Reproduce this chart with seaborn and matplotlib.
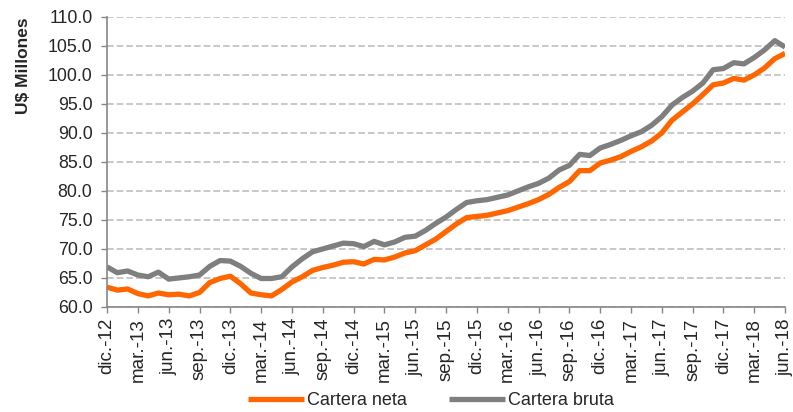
import pandas as pd
import seaborn as sns
import matplotlib.pyplot as plt
from matplotlib.ticker import FormatStrFormatter

# Cartera mensual, dic-12 a jun-18 (US$ millones)
cartera_neta = [63.4, 62.9, 63.1, 62.3, 61.9, 62.4, 62.1, 62.2, 61.9, 62.5,
                64.2, 64.9, 65.3, 64.0, 62.4, 62.1, 61.9, 63.0, 64.3, 65.2,
                66.3, 66.8, 67.2, 67.7, 67.8, 67.4, 68.2, 68.1, 68.6, 69.3,
                69.7, 70.7, 71.7, 73.0, 74.3, 75.4, 75.6, 75.8, 76.2, 76.6,
                77.2, 77.8, 78.5, 79.4, 80.6, 81.6, 83.5, 83.5, 84.8, 85.3,
                85.9, 86.8, 87.6, 88.6, 90.0, 92.2, 93.6, 95.0, 96.6, 98.3,
                98.6, 99.4, 99.1, 100.0, 101.2, 102.8, 103.7]
cartera_bruta = [66.9, 65.9, 66.2, 65.5, 65.2, 66.0, 64.8, 65.0, 65.2, 65.5,
                 67.0, 68.0, 67.9, 67.0, 65.8, 64.9, 64.9, 65.2, 66.9, 68.3,
                 69.5, 70.0, 70.5, 71.0, 70.9, 70.4, 71.3, 70.7, 71.2, 72.0,
                 72.2, 73.2, 74.4, 75.5, 76.8, 78.0, 78.3, 78.5, 78.9, 79.3,
                 80.0, 80.7, 81.3, 82.2, 83.6, 84.4, 86.3, 86.1, 87.4, 88.0,
                 88.7, 89.5, 90.2, 91.3, 92.8, 94.8, 96.1, 97.2, 98.6, 100.9,
                 101.1, 102.1, 101.9, 103.0, 104.3, 105.9, 104.8]

etiquetas = ["dic.-12", "mar.-13", "jun.-13", "sep.-13", "dic.-13", "mar.-14",
             "jun.-14", "sep.-14", "dic.-14", "mar.-15", "jun.-15", "sep.-15",
             "dic.-15", "mar.-16", "jun.-16", "sep.-16", "dic.-16", "mar.-17",
             "jun.-17", "sep.-17", "dic.-17", "mar.-18", "jun.-18"]

colores = {"Cartera neta": "#FF6600", "Cartera bruta": "#7F7F7F"}

df = pd.DataFrame({"mes": range(len(cartera_neta)),
                   "Cartera neta": cartera_neta,
                   "Cartera bruta": cartera_bruta})
df_long = df.melt(id_vars="mes", var_name="serie", value_name="valor")

sns.set_theme(style="white")
plt.rcParams['font.family'] = ['Liberation Sans', 'DejaVu Sans']

fig = plt.figure(figsize=(7.93, 4.12), dpi=100)
ax = fig.add_axes([0.135, 0.255, 0.855, 0.704])

sns.lineplot(data=df_long, x="mes", y="valor", hue="serie", palette=colores,
             linewidth=3.8, ax=ax, solid_capstyle="butt", solid_joinstyle="round")

ax.set_xlim(0, len(cartera_neta) - 1)
ax.set_ylim(60, 110)
ax.set_yticks(range(60, 111, 5))
ax.yaxis.set_major_formatter(FormatStrFormatter('%.1f'))
ax.set_xticks(range(0, len(cartera_neta), 3))
ax.set_xticklabels(etiquetas, rotation=90, va="top")

ax.yaxis.grid(True, linestyle=(0, (4, 1.8)), color="#BFBFBF", linewidth=1.2)
ax.set_axisbelow(True)

for lado in ["top", "right"]:
    ax.spines[lado].set_visible(False)
for lado in ["left", "bottom"]:
    ax.spines[lado].set_color("#868686")
    ax.spines[lado].set_linewidth(1.2)

ax.tick_params(axis="y", which="major", direction="out", length=4.5, width=1,
               color="#868686", pad=6, labelsize=12.8, left=True)
ax.tick_params(axis="x", which="major", direction="out", length=4, width=1,
               color="#868686", pad=4, labelsize=13.5, bottom=True)

ax.set_xlabel("")
ax.set_ylabel("U$ Millones", fontsize=12.5, fontweight="bold", loc="top", labelpad=12)

# Mover la leyenda debajo del gráfico
handles, labels = ax.get_legend_handles_labels()
ax.get_legend().remove()
fig.legend(handles, labels, loc="lower center", bbox_to_anchor=(431 / 793, -0.032),
           ncol=2, frameon=False, fontsize=13, handlelength=3.1,
           handletextpad=0.2, columnspacing=2.3)

plt.savefig("out.png", dpi=100)
